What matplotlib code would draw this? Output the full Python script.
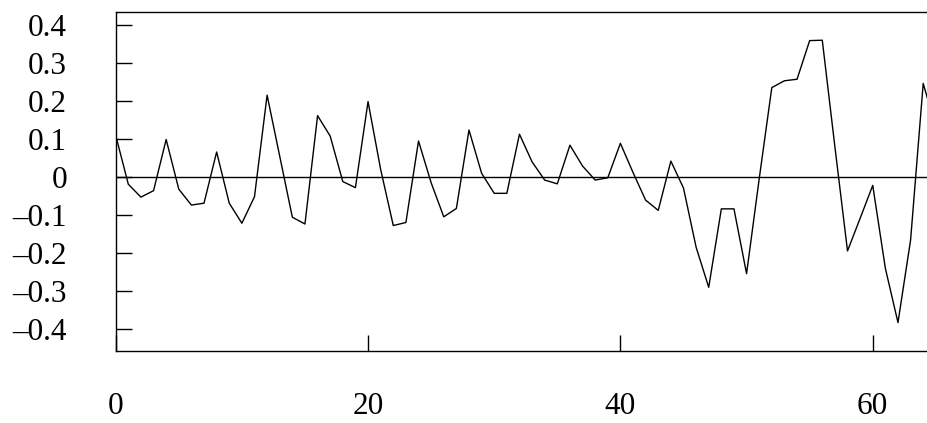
import matplotlib
matplotlib.use("Agg")
import matplotlib.pyplot as plt
from matplotlib.ticker import FixedLocator, FuncFormatter

# values, one per integer step
lags = list(range(66))
values = [
    0.110, -0.019, -0.053, -0.036, 0.099, -0.032, -0.074, -0.069, 0.066, -0.069,
    -0.122, -0.052, 0.216, 0.055, -0.106, -0.124, 0.162, 0.108, -0.012, -0.028,
    0.199, 0.020, -0.128, -0.120, 0.095, -0.015, -0.105, -0.083, 0.124, 0.010,
    -0.043, -0.043, 0.113, 0.040, -0.008, -0.018, 0.084, 0.029, -0.008, -0.002,
    0.089, 0.012, -0.061, -0.088, 0.042, -0.029, -0.185, -0.291, -0.084, -0.084,
    -0.255, -0.005, 0.236, 0.254, 0.258, 0.360, 0.361, 0.080, -0.195, -0.109,
    -0.022, -0.241, -0.384, -0.166, 0.247, 0.130,
]
x_ticks = [0, 20, 40, 60]
y_ticks = [-0.4, -0.3, -0.2, -0.1, 0, 0.1, 0.2, 0.3, 0.4]

plt.rcParams['font.family'] = ['Liberation Serif', 'DejaVu Serif']

fig = plt.figure(figsize=(9.27, 4.23), dpi=100)
ax = fig.add_axes([0.1248, 0.1709, 0.8752, 0.8014])

ax.plot(lags, values, color='black', linewidth=1.0)
ax.axhline(0, color='black', linewidth=1.0)

ax.set_xlim(0, 64.3)
ax.set_ylim(-0.4583, 0.4362)

ax.xaxis.set_major_locator(FixedLocator(x_ticks))
ax.yaxis.set_major_locator(FixedLocator(y_ticks))


def fmt(v, pos):
    if abs(v) < 1e-9:
        return '0'
    # the reference uses an en dash for the minus sign
    return f'{v:.1f}'.replace('-', '\u2013')


ax.yaxis.set_major_formatter(FuncFormatter(fmt))
ax.xaxis.set_major_formatter(FuncFormatter(lambda v, p: f'{v:.0f}'))

ax.spines['right'].set_visible(False)
for s in ['left', 'bottom', 'top']:
    ax.spines[s].set_linewidth(1.0)

ax.tick_params(axis='both', direction='in', length=11.5, width=1.0,
               labelsize=22.5, top=False, right=False)
ax.tick_params(axis='y', pad=35)
ax.tick_params(axis='x', pad=30)

fig.savefig('out.png', dpi=100)
